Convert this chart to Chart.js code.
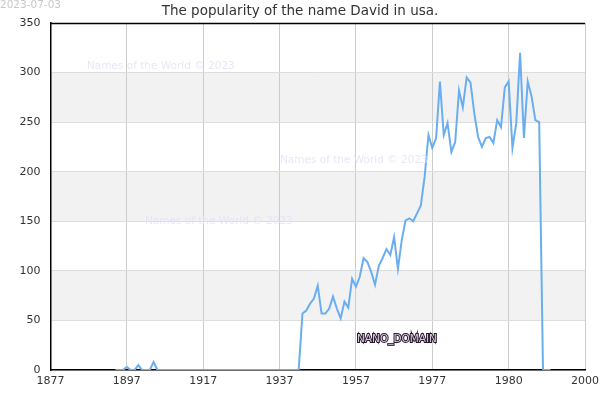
<!DOCTYPE html>
<html>
<head>
<meta charset="utf-8">
<script src="https://cdn.jsdelivr.net/npm/chart.js@4.4.0/dist/chart.umd.min.js"></script>
<style>
  html, body { margin: 0; padding: 0; background: #fff; }
  #wrap { width: 600px; height: 400px; position: relative; }
</style>
</head>
<body>
<div id="wrap"><canvas id="c" width="600" height="400"></canvas></div>
<script>
const chartTitle = "The popularity of the name David in usa.";
const dateStamp = "2023-07-03";
const watermark = "Names of the World © 2023";
const domainLabel = "NANO_DOMAIN";

const xTickLabels = ["1877", "1897", "1917", "1937", "1957", "1977", "1980", "2000"];
const yTicks = [0, 50, 100, 150, 200, 250, 300, 350];

const years = [
  1894, 1895, 1896, 1897, 1898, 1899, 1900, 1901, 1902, 1903,
  1904, 1905, 1906, 1907, 1908, 1909, 1910, 1911, 1912, 1913,
  1914, 1915, 1916, 1917, 1918, 1919, 1920, 1921, 1922, 1923,
  1924, 1925, 1926, 1927, 1928, 1929, 1930, 1931, 1932, 1933,
  1934, 1935, 1936, 1937, 1938, 1939, 1940, 1941, 1942, 1943,
  1944, 1945, 1946, 1947, 1948, 1949, 1950, 1951, 1952, 1953,
  1954, 1955, 1956, 1957, 1958, 1959, 1960, 1961, 1962, 1963,
  1964, 1965, 1966, 1967, 1968, 1969, 1970, 1971, 1972, 1973,
  1974, 1975, 1976, 1977, 1978, 1979, 1980, 1981, 1982, 1983,
  1984, 1985, 1986, 1987, 1988, 1989, 1990, 1991, 1992, 1993,
  1994, 1995, 1996, 1997, 1998, 1999, 2000, 2001, 2002, 2003,
  2004, 2005, 2006, 2007, 2008
];

const popularity = [
  0, 0, 0, 3, 0, 0, 5, 0, 0, 0,
  8, 0, 0, 0, 0, 0, 0, 0, 0, 0,
  0, 0, 0, 0, 0, 0, 0, 0, 0, 0,
  0, 0, 0, 0, 0, 0, 0, 0, 0, 0,
  0, 0, 0, 0, 0, 0, 0, 0, 0, 57,
  60, 67, 72, 85, 57, 57, 62, 74, 62, 52,
  69, 63, 92, 84, 94, 113, 109, 99, 86, 105,
  113, 122, 116, 134, 102, 131, 151, 153, 150, 158,
  166, 195, 237, 224, 234, 291, 237, 249, 220, 230,
  282, 265, 295, 290, 259, 235, 225, 234, 235, 229,
  252, 245, 285, 291, 224, 249, 320, 234, 291, 276,
  252, 250, 0, 0, 0
];

const points = years.map((y, i) => ({ x: y, y: popularity[i] }));

const decorPlugin = {
  id: 'decor',
  beforeDraw(chart) {
    const { ctx, chartArea: a, scales: { y } } = chart;
    ctx.save();
    ctx.fillStyle = '#f2f2f2';
    [[50, 100], [150, 200], [250, 300]].forEach(([lo, hi]) => {
      const top = y.getPixelForValue(hi), bot = y.getPixelForValue(lo);
      ctx.fillRect(a.left, top, a.right - a.left, bot - top);
    });
    ctx.restore();
  },
  afterDraw(chart) {
    const { ctx, chartArea: a } = chart;
    ctx.save();
    ctx.strokeStyle = '#000';
    ctx.lineWidth = 1.5;
    ctx.beginPath();
    ctx.moveTo(a.left, a.top + 0.5);
    ctx.lineTo(a.right, a.top + 0.5);
    ctx.stroke();
    ctx.font = '10.5px "DejaVu Sans"';
    ctx.fillStyle = '#c8c8c8';
    ctx.textAlign = 'left';
    ctx.textBaseline = 'middle';
    ctx.fillText(dateStamp, 0, 5);
    ctx.font = '13.5px "DejaVu Sans"';
    ctx.fillStyle = '#333';
    ctx.textAlign = 'center';
    ctx.fillText(chartTitle, 300, 11);
    ctx.font = '10.5px "DejaVu Sans"';
    ctx.fillStyle = 'rgba(225,225,250,0.8)';
    ctx.textAlign = 'left';
    ctx.fillText(watermark, 87, 66);
    ctx.fillText(watermark, 280, 160);
    ctx.fillText(watermark, 145, 221);
    ctx.font = '10.5px "DejaVu Sans"';
    ctx.lineWidth = 2;
    ctx.strokeStyle = '#2a1a2e';
    ctx.strokeText(domainLabel, 357, 339);
    ctx.fillStyle = '#d8c8e0';
    ctx.fillText(domainLabel, 357, 339);
    ctx.restore();
  }
};

new Chart(document.getElementById('c'), {
  type: 'line',
  data: {
    datasets: [{
      data: points,
      borderColor: '#6aaef0',
      borderWidth: 2,
      pointRadius: 0,
      fill: false,
      tension: 0
    }]
  },
  options: {
    responsive: false,
    animation: false,
    devicePixelRatio: 1,
    layout: { padding: { top: 23, right: 15, left: 0, bottom: 0 } },
    plugins: { legend: { display: false }, tooltip: { enabled: false } },
    scales: {
      x: {
        type: 'linear',
        min: 1877,
        max: 2017,
        afterBuildTicks(scale) {
          scale.ticks = [1877, 1897, 1917, 1937, 1957, 1977, 1997, 2017].map(v => ({ value: v }));
        },
        afterFit(scale) { scale.height = 30; scale.paddingLeft = 0; scale.paddingRight = 0; },
        ticks: {
          autoSkip: false,
          maxRotation: 0,
          padding: 5,
          color: '#333',
          font: { family: 'DejaVu Sans', size: 11 },
          callback: (v, i) => xTickLabels[i]
        },
        grid: { color: '#cccccc', lineWidth: 1, drawTicks: false },
        border: { color: '#000', width: 1.5 }
      },
      y: {
        min: 0,
        max: 350,
        afterBuildTicks(scale) { scale.ticks = yTicks.map(v => ({ value: v })); },
        afterFit(scale) { scale.width = 50.5; scale.paddingTop = 0; scale.paddingBottom = 0; },
        ticks: {
          padding: 10,
          color: '#333',
          font: { family: 'DejaVu Sans', size: 11 }
        },
        grid: { color: '#dddddd', lineWidth: 1, drawTicks: false },
        border: { color: '#000', width: 1.5 }
      }
    }
  },
  plugins: [decorPlugin]
});
</script>
</body>
</html>
